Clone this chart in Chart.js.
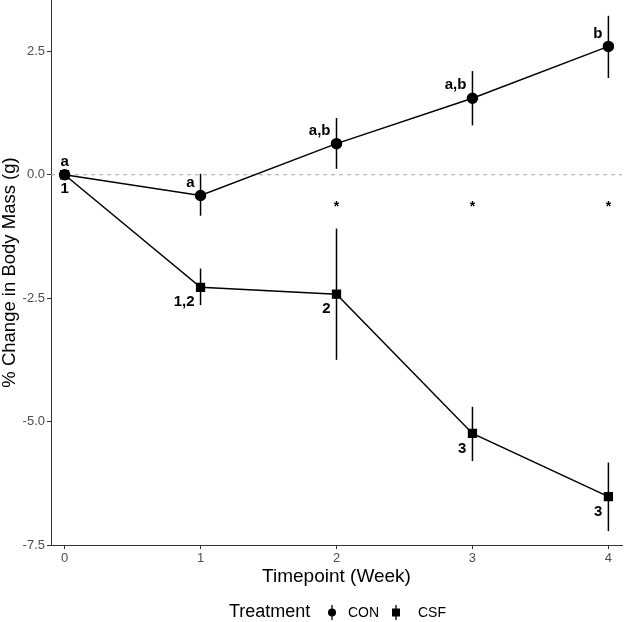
<!DOCTYPE html>
<html>
<head>
<meta charset="utf-8">
<script src="https://cdn.jsdelivr.net/npm/chart.js@4.4.1/dist/chart.umd.min.js"></script>
<style>
  html, body { margin: 0; padding: 0; background: #fff; }
  #wrap { width: 624px; height: 622px; }
</style>
</head>
<body>
<div id="wrap"><canvas id="myCanvas" width="624" height="622"></canvas></div>
<script>
"use strict";

// data
const weeks = [0, 1, 2, 3, 4];
const conMean = [0, -0.42, 0.63, 1.55, 2.6];
const conLow = [0, -0.83, 0.12, 1.0, 1.96];
const conHigh = [0, 0.02, 1.15, 2.1, 3.22];
const csfMean = [0, -2.28, -2.42, -5.24, -6.52];
const csfLow = [0, -2.64, -3.75, -5.8, -7.22];
const csfHigh = [0, -1.9, -1.09, -4.7, -5.83];
const conLabels = ["a", "a", "a,b", "a,b", "b"];
const csfLabels = ["1", "1,2", "2", "3", "3"];
const starWeeks = [2, 3, 4];
const starY = -0.6;
const yTicks = [-7.5, -5, -2.5, 0, 2.5];
const xTicks = [0, 1, 2, 3, 4];

const fontFam = "'Liberation Sans', Arial, sans-serif";

function toXY(ys) {
  return weeks.map((w, i) => ({ x: w, y: ys[i] }));
}

// dashed zero line + error bars, behind the points
const behindPlugin = {
  id: "behind",
  beforeDatasetsDraw(chart) {
    const { ctx, chartArea, scales } = chart;
    const y0 = scales.y.getPixelForValue(0);
    ctx.save();
    ctx.strokeStyle = "#a6a6a6";
    ctx.lineWidth = 1;
    ctx.setLineDash([4, 4]);
    ctx.beginPath();
    ctx.moveTo(chartArea.left, y0);
    ctx.lineTo(chartArea.right, y0);
    ctx.stroke();
    ctx.setLineDash([]);

    ctx.strokeStyle = "#000";
    ctx.lineWidth = 1.5;
    const bars = [[conLow, conHigh], [csfLow, csfHigh]];
    bars.forEach(([lo, hi]) => {
      weeks.forEach((w, i) => {
        if (lo[i] === hi[i]) return;
        const px = scales.x.getPixelForValue(w);
        ctx.beginPath();
        ctx.moveTo(px, scales.y.getPixelForValue(lo[i]));
        ctx.lineTo(px, scales.y.getPixelForValue(hi[i]));
        ctx.stroke();
      });
    });
    ctx.restore();
  },
};

// group letters, numbers and asterisks
const labelPlugin = {
  id: "letters",
  afterDatasetsDraw(chart) {
    const { ctx, scales } = chart;
    ctx.save();
    ctx.fillStyle = "#000";
    ctx.font = "bold 15px " + fontFam;
    ctx.textBaseline = "middle";
    weeks.forEach((w, i) => {
      const px = scales.x.getPixelForValue(w);
      const pyCon = scales.y.getPixelForValue(conMean[i]);
      const pyCsf = scales.y.getPixelForValue(csfMean[i]);
      if (i === 0) {
        ctx.textAlign = "center";
        ctx.fillText(conLabels[i], px, pyCon - 13);
        ctx.fillText(csfLabels[i], px, pyCsf + 14);
      } else {
        ctx.textAlign = "right";
        ctx.fillText(conLabels[i], px - 6, pyCon - 13);
        ctx.fillText(csfLabels[i], px - 6, pyCsf + 15);
      }
    });
    ctx.font = "bold 14px " + fontFam;
    ctx.textAlign = "center";
    starWeeks.forEach((w) => {
      ctx.fillText("*", scales.x.getPixelForValue(w), scales.y.getPixelForValue(starY) + 3);
    });
    ctx.restore();
  },
};

// ggplot-style legend row at the bottom
const legendPlugin = {
  id: "bottomLegend",
  afterDraw(chart) {
    const { ctx } = chart;
    const cy = 612;
    ctx.save();
    ctx.fillStyle = "#000";
    ctx.strokeStyle = "#000";
    ctx.textBaseline = "middle";
    ctx.textAlign = "left";
    ctx.font = "18px " + fontFam;
    ctx.fillText("Treatment", 229, cy);
    ctx.font = "14px " + fontFam;
    ctx.fillText("CON", 348, cy + 1);
    ctx.fillText("CSF", 418, cy + 1);
    ctx.lineWidth = 1.3;
    // CON key
    ctx.beginPath();
    ctx.moveTo(332, cy - 7);
    ctx.lineTo(332, cy + 8);
    ctx.stroke();
    ctx.beginPath();
    ctx.arc(332, cy + 0.5, 4, 0, Math.PI * 2);
    ctx.fill();
    // CSF key
    ctx.beginPath();
    ctx.moveTo(396, cy - 7);
    ctx.lineTo(396, cy + 8);
    ctx.stroke();
    ctx.fillRect(392, cy - 3.5, 8, 8);
    ctx.restore();
  },
};

const ctx = document.getElementById("myCanvas");
new Chart(ctx, {
  type: "line",
  data: {
    datasets: [
      {
        label: "CON",
        data: toXY(conMean),
        borderColor: "#000",
        backgroundColor: "#000",
        borderWidth: 1.5,
        pointStyle: "circle",
        pointRadius: 5,
        pointHoverRadius: 5,
        clip: false,
      },
      {
        label: "CSF",
        data: toXY(csfMean),
        borderColor: "#000",
        backgroundColor: "#000",
        borderWidth: 1.5,
        pointStyle: "rect",
        pointRadius: 5.5,
        pointHoverRadius: 5.5,
        clip: false,
      },
    ],
  },
  options: {
    responsive: false,
    animation: false,
    devicePixelRatio: 1,
    layout: { autoPadding: false, padding: { top: 0, right: 2, left: 0, bottom: 30 } },
    plugins: {
      legend: { display: false },
      tooltip: { enabled: false },
    },
    scales: {
      x: {
        type: "linear",
        min: -0.1,
        max: 4.1,
        afterBuildTicks: (scale) => {
          scale.ticks = xTicks.map((v) => ({ value: v }));
        },
        afterFit: (scale) => {
          scale.height = 47;
          scale.paddingLeft = 0;
          scale.paddingRight = 0;
        },
        grid: {
          drawOnChartArea: false,
          color: "#333",
          tickLength: 4,
        },
        border: { display: true, color: "#333", width: 1 },
        ticks: {
          color: "#4d4d4d",
          padding: 2,
          font: { family: fontFam, size: 13 },
        },
        title: {
          display: true,
          text: "Timepoint (Week)",
          color: "#000",
          font: { family: fontFam, size: 19 },
          padding: { top: 0, bottom: 4 },
        },
      },
      y: {
        min: -7.5,
        max: 3.54,
        afterBuildTicks: (scale) => {
          scale.ticks = yTicks.map((v) => ({ value: v }));
        },
        afterFit: (scale) => {
          scale.width = 51;
          scale.paddingTop = 0;
          scale.paddingBottom = 0;
        },
        grid: {
          drawOnChartArea: false,
          color: "#333",
          tickLength: 4,
        },
        border: { display: true, color: "#333", width: 1 },
        ticks: {
          color: "#4d4d4d",
          padding: 2,
          font: { family: fontFam, size: 13 },
          callback: (v) => v.toFixed(1),
        },
        title: {
          display: true,
          text: "% Change in Body Mass (g)",
          color: "#000",
          font: { family: fontFam, size: 18.5 },
          padding: { top: -1, bottom: 0 },
        },
      },
    },
  },
  plugins: [behindPlugin, labelPlugin, legendPlugin],
});
</script>
</body>
</html>
